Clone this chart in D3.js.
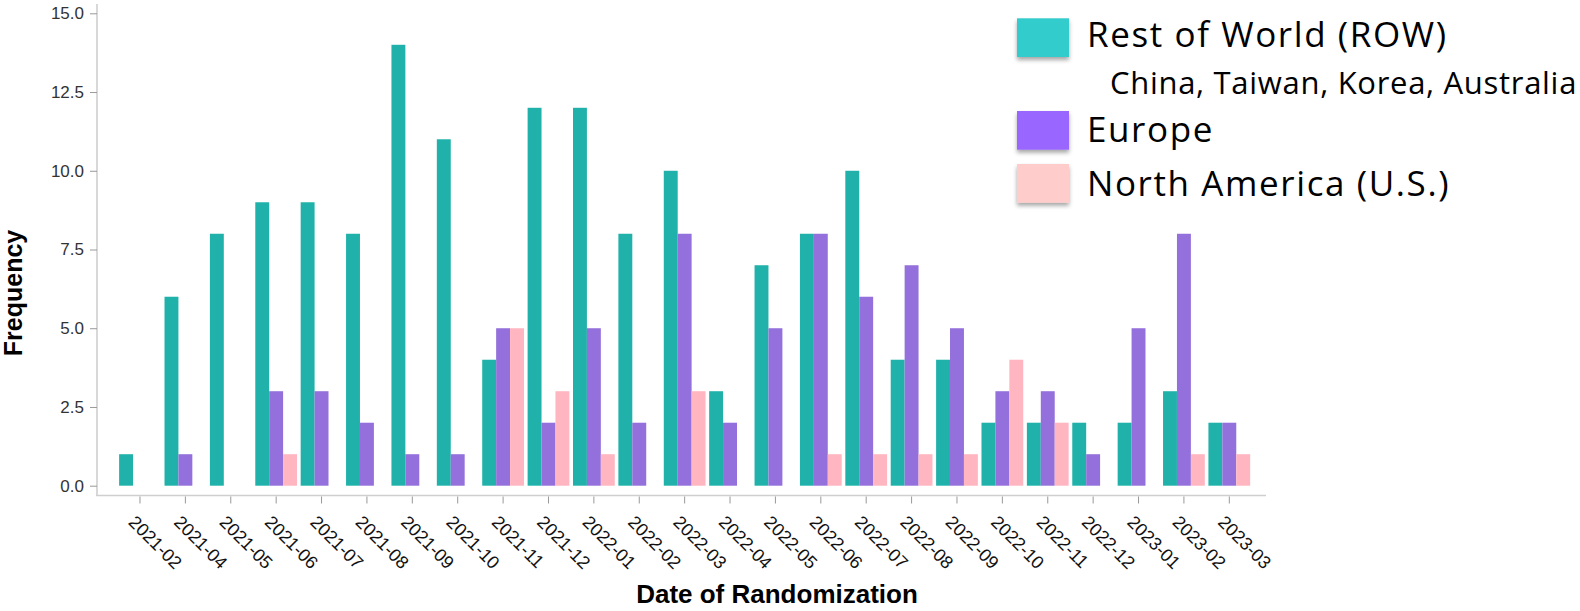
<!DOCTYPE html>
<html><head><meta charset="utf-8">
<script src="https://cdn.jsdelivr.net/npm/d3@7"></script>
<style>body{margin:0;background:#fff;} svg{display:block;}</style>
</head><body>
<svg id="chart" width="1580" height="611"></svg>
<script>
const categories = ["2021-02","2021-04","2021-05","2021-06","2021-07","2021-08","2021-09","2021-10","2021-11","2021-12",
  "2022-01","2022-02","2022-03","2022-04","2022-05","2022-06","2022-07","2022-08","2022-09","2022-10","2022-11","2022-12",
  "2023-01","2023-02","2023-03"];
const rowValues    = [1,6,8,9,9,8,14,11,4,12,12,8,10,3,7,8,10,4,4,2,2,2,2,3,2];
const europeValues = [0,1,0,3,3,2,1,1,5,2,5,2,8,2,5,8,6,7,5,3,3,1,5,8,2];
const naValues     = [0,0,0,1,0,0,0,0,5,3,1,0,3,0,0,1,1,1,1,4,2,0,0,1,1];
const seriesKeys   = ["row","europe","na"];
const seriesNames  = ["Rest of World (ROW)","Europe","North America (U.S.)"];
const legendSubtitle = "China, Taiwan, Korea, Australia";
const barColors    = ["#20b2aa","#9370db","#ffb6c1"];
const legendColors = ["#33cccc","#9966ff","#ffcccc"];
const yTicks = [0,2.5,5,7.5,10,12.5,15];

const svg = d3.select("#chart");
const defs = svg.append("defs");
const f = defs.append("filter").attr("id","shadow").attr("x","-20%").attr("y","-20%").attr("width","140%").attr("height","160%");
f.append("feDropShadow").attr("dx",0).attr("dy",3).attr("stdDeviation",2).attr("flood-color","#000").attr("flood-opacity",0.35);

const x = d3.scaleBand().domain(categories).range([117.3, 1252]).paddingInner(0.08).paddingOuter(0.04);
const x1 = d3.scaleBand().domain(seriesKeys).range([0, x.bandwidth()]).padding(0);
const y = d3.scaleLinear().domain([0,15]).range([485.7, 13.3]);

const data = categories.map((c,i)=>({cat:c, row:rowValues[i], europe:europeValues[i], na:naValues[i]}));
const color = d3.scaleOrdinal().domain(seriesKeys).range(barColors);

// bars
svg.append("g").selectAll("g").data(data).join("g")
  .attr("transform", d => `translate(${x(d.cat)},0)`)
  .selectAll("rect").data(d => seriesKeys.map(k => ({key:k, value:d[k]})).filter(e => e.value > 0)).join("rect")
  .attr("x", d => x1(d.key)).attr("width", x1.bandwidth())
  .attr("y", d => y(d.value)).attr("height", d => y(0) - y(d.value))
  .attr("fill", d => color(d.key));

// domain lines
svg.append("line").attr("x1",97).attr("x2",97).attr("y1",4).attr("y2",496)
  .attr("stroke","#cfcfcf").attr("stroke-width",1.6);
svg.append("line").attr("x1",96.2).attr("x2",1266).attr("y1",495.5).attr("y2",495.5)
  .attr("stroke","#cfcfcf").attr("stroke-width",1.6);

// x axis
const gx = svg.append("g").attr("transform","translate(0,496.5)")
  .call(d3.axisBottom(x).tickSize(7).tickSizeOuter(0));
gx.select(".domain").remove();
gx.selectAll(".tick line").attr("stroke","#999");
gx.selectAll(".tick text")
  .attr("x",0).attr("y",17.5).attr("dy",null)
  .attr("text-anchor","start")
  .attr("transform","translate(0,14.5) rotate(45)")
  .attr("font-family","'Liberation Sans', Arial, sans-serif")
  .attr("font-size",18).attr("fill","#111");

// y axis
const gy = svg.append("g").attr("transform","translate(97,0)")
  .call(d3.axisLeft(y).tickValues(yTicks).tickFormat(d3.format(".1f")).tickSize(7).tickPadding(6));
gy.select(".domain").remove();
gy.selectAll(".tick line").attr("stroke","#999");
gy.selectAll(".tick text")
  .attr("font-family","'Liberation Sans', Arial, sans-serif")
  .attr("font-size",17).attr("fill","#333");

// axis titles
svg.append("text").attr("x",777).attr("y",603).attr("text-anchor","middle")
  .attr("font-family","'Liberation Sans', Arial, sans-serif").attr("font-weight","bold")
  .attr("font-size",26).attr("fill","#000").text("Date of Randomization");
svg.append("text").attr("transform","translate(22,293) rotate(-90)").attr("text-anchor","middle")
  .attr("font-family","'Liberation Sans', Arial, sans-serif").attr("font-weight","bold")
  .attr("font-size",25).attr("fill","#000").text("Frequency");

// legend
const legendSwatchY = [18.3, 111, 164];
const legendTextY = [47, 142, 195.5];
const lg = svg.append("g");
seriesNames.forEach((name,i)=>{
  lg.append("rect").attr("x",1017).attr("y",legendSwatchY[i]).attr("width",52).attr("height",38.7)
    .attr("fill",legendColors[i]).attr("filter","url(#shadow)");
  lg.append("text").attr("x",1087).attr("y",legendTextY[i])
    .attr("font-family","'Open Sans', sans-serif").attr("font-size",35).attr("letter-spacing",1.6)
    .attr("fill","#000").text(name);
});
lg.append("text").attr("x",1110).attr("y",93.5)
  .attr("font-family","'Open Sans', sans-serif").attr("font-size",31).attr("letter-spacing",0.7)
  .attr("fill","#000").text(legendSubtitle);
</script>
</body></html>
